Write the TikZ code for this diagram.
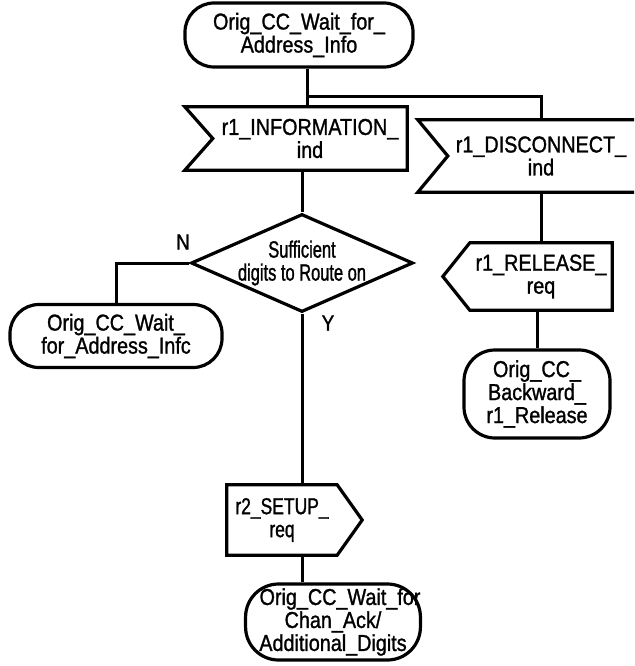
\documentclass[tikz,border=0pt]{standalone}
\usepackage{fontspec}
\setmainfont{Liberation Sans}[FakeStretch=0.86, FakeBold=1.2]
\newfontfamily\slimfont{Liberation Sans}[FakeStretch=0.76, FakeBold=1.2]
\newfontfamily\slimmerfont{Liberation Sans}[FakeStretch=0.70, FakeBold=1.2]
\usetikzlibrary{shapes.geometric}
\begin{document}
\begin{tikzpicture}[x=1pt,y=-1pt,
  every node/.style={font=\fontsize{23}{23}\selectfont, align=center, inner sep=0pt},
  slim/.style={font=\slimfont\fontsize{23}{23}\selectfont},
  slimmer/.style={font=\slimmerfont\fontsize{23.5}{23}\selectfont},
  wire/.style={line width=3pt},
  outline/.style={line width=3.2pt, line join=miter},
  state/.style={draw, outline, rounded corners=29pt},
  holder/.style={draw=none},
  decision/.style={draw, outline, diamond, minimum width=222pt, minimum height=98pt},
  tag/.style={font=\fontsize{22}{23}\selectfont}]
\useasboundingbox (0,0) rectangle (634,666);
\clip (0,0) rectangle (634,666);

% states
\node[state, minimum width=228pt, minimum height=64pt] (top) at (299,35) {Orig\_CC\_Wait\_for\_\\Address\_Info};
\node[state, minimum width=212pt, minimum height=63pt] (left) at (116,336) {Orig\_CC\_Wait\_\\for\_Address\_Infc};
\node[state, minimum width=146pt, minimum height=88pt, rounded corners=31pt] (back) at (537,394) {Orig\_CC\_\\Backward\_\\r1\_Release};
\node[state, minimum width=173pt, minimum height=76pt, rounded corners=33pt] (bot) at (333,622) {\hspace*{14pt}Orig\_CC\_Wait\_for\\Chan\_Ack/\\Additional\_Digits};

% input signals (notch on the left)
\node[holder, minimum width=194pt, minimum height=63pt] (info) at (310,138.5) {r1\_INFORMATION\_\\ind};
\draw[outline] ([xshift=-28pt]info.north west) -- (info.north east) -- (info.south east)
  -- ([xshift=-28pt]info.south west) -- (info.west) -- cycle;
\node[holder, minimum width=186pt, minimum height=72pt] (disc) at (541,156) {r1\_DISCONNECT\_\\ind};
\draw[outline] ([xshift=-30pt]disc.north west) -- ([xshift=60pt]disc.north east) -- ([xshift=60pt]disc.south east)
  -- ([xshift=-30pt]disc.south west) -- (disc.west) -- cycle;

% output signals
\node[holder, minimum width=142pt, minimum height=67pt] (rel) at (541,276.5) {r1\_RELEASE\_\\req};
\draw[outline] (rel.north west) -- (rel.north east) -- (rel.south east)
  -- (rel.south west) -- ([xshift=-27pt]rel.west) -- cycle;
\node[holder, slim, minimum width=110pt, minimum height=70pt] (setup) at (282,520) {r2\_SETUP\_\\req};
\draw[outline] (setup.north west) -- (setup.north east) -- ([xshift=25pt]setup.east)
  -- (setup.south east) -- (setup.south west) -- cycle;

% decision
\node[decision] (dec) at (302,263) {};
\node[slimmer] (dectext) at (dec.center) {Sufficient\\digits to Route on};
\node[tag] (n) at (183,242) {N};
\node[tag] (y) at (328,323) {Y};

% connectors
\coordinate (trunk) at (307,0);
\coordinate (fork) at (307,97);
\draw[wire] (top.south -| trunk) -- (info.north -| trunk);
\draw[wire] (fork) -- (fork -| disc.north) -- (disc.north);
\draw[wire] (info.south -| dec.north) -- (dec.north);
\draw[wire] (dec.west) -- (dec.west -| left.north) -- (left.north);
\draw[wire] (dec.south) -- (dec.south |- setup.north);
\draw[wire] (setup.south -| dec.south) -- (bot.north -| dec.south);
\draw[wire] (disc.south) -- (rel.north);
\draw[wire] (rel.south -| back.north) -- (back.north);
\end{tikzpicture}
\end{document}
